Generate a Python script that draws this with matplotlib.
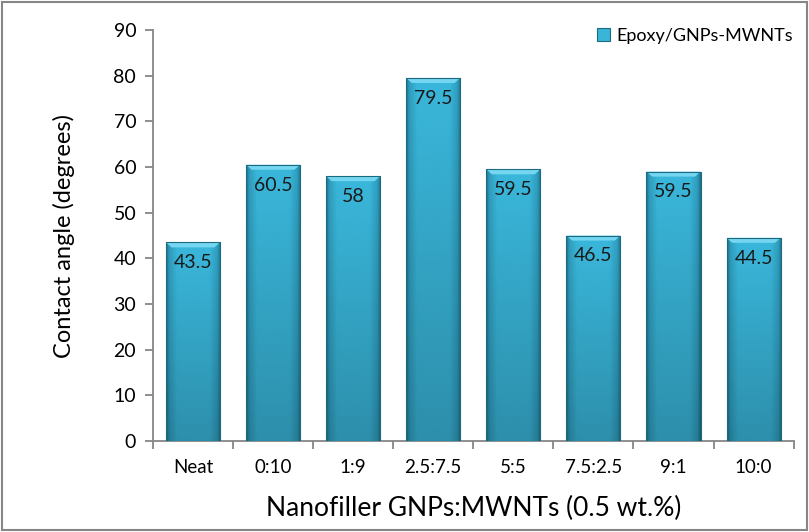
import numpy as np
import matplotlib
matplotlib.use('Agg')
import matplotlib.pyplot as plt
from matplotlib.patches import Rectangle, Polygon
from matplotlib.colors import LinearSegmentedColormap

# data
categories = ['Neat', '0:10', '1:9', '2.5:7.5', '5:5', '7.5:2.5', '9:1', '10:0']
heights = [43.5, 60.5, 58, 79.5, 59.5, 45, 59, 44.5]
labels = ['43.5', '60.5', '58', '79.5', '59.5', '46.5', '59.5', '44.5']
series_name = 'Epoxy/GNPs-MWNTs'

plt.rcParams['font.family'] = ['Lato', 'DejaVu Sans']

fig = plt.figure(figsize=(8.09, 5.32), dpi=100)
ax = fig.add_axes([0.189, 0.171, 0.792, 0.7726])

x = np.arange(len(categories))
bw = 0.675
# mostly flat colour with darker rims
cmap = LinearSegmentedColormap.from_list(
    'cyl', [(0, '#1d6f86'), (0.06, '#2f9dbd'), (0.2, '#3ab7db'),
            (0.8, '#3ab7db'), (0.94, '#2f9dbd'), (1, '#1d6f86')])

bars = ax.bar(x, heights, width=bw, color='#3ab5d8', edgecolor='none', zorder=2)
for b, h in zip(bars, heights):
    x0 = b.get_x()
    grad = np.linspace(0, 1, 256).reshape(1, -1)
    im = ax.imshow(grad, cmap=cmap, aspect='auto', extent=[x0, x0 + bw, 0, h],
                   zorder=3)
    im.set_clip_path(b)
    # darker towards the bottom
    vg_rgba = np.zeros((256, 1, 4))
    vg_rgba[:, 0, 3] = np.linspace(0.0, 0.22, 256)
    im2 = ax.imshow(vg_rgba, aspect='auto', extent=[x0, x0 + bw, 0, h],
                    zorder=4, origin='upper')
    im2.set_clip_path(b)
    # bevel at top
    bev = 1.1
    dx = 0.07
    top = Polygon([[x0, h], [x0 + bw, h], [x0 + bw - dx, h - bev], [x0 + dx, h - bev]],
                  closed=True, facecolor='#74d6f0', edgecolor='none', zorder=5)
    ax.add_patch(top)
    ax.add_patch(Rectangle((x0, 0), bw, h, fill=False, edgecolor='#1b6a80',
                           lw=0.8, zorder=6))

for xi, h, lab in zip(x, heights, labels):
    ax.text(xi, h - 2.6, lab, ha='center', va='top', fontsize=14,
            color='#1a1a1a', zorder=7)

ax.set_xlim(-0.5, len(categories) - 0.5)
ax.set_ylim(0, 90)
ax.set_yticks(np.arange(0, 91, 10))
ax.set_xticks(x)
ax.set_xticklabels(categories)
ax.set_xticks(np.arange(-0.5, len(categories), 1), minor=True)
ax.tick_params(axis='x', which='major', length=0, pad=13, labelsize=13.5)
ax.tick_params(axis='x', which='minor', length=6, color='#868686', width=1.3)
ax.tick_params(axis='y', length=6, color='#868686', width=1.3, labelsize=14, pad=6)
for s in ['top', 'right']:
    ax.spines[s].set_visible(False)
for s in ['left', 'bottom']:
    ax.spines[s].set_color('#868686')
    ax.spines[s].set_linewidth(1.3)

ax.set_xlabel('Nanofiller GNPs:MWNTs (0.5 wt.%)', fontsize=19, labelpad=14)
ax.set_ylabel('Contact angle (degrees)', fontsize=17, labelpad=28)

handle = Rectangle((0, 0), 1, 1, facecolor='#3ab5d8', edgecolor='#1b6a80', lw=0.8)
ax.legend([handle], [series_name], loc='upper right', frameon=False,
          fontsize=13, handlelength=0.7, handleheight=0.7, handletextpad=0.4,
          bbox_to_anchor=(1.025, 1.045))

# outer frame
fig.patches.append(Rectangle((0.002, 0.004), 0.996, 0.992, transform=fig.transFigure,
                             fill=False, edgecolor='#868686', lw=1.5))

fig.savefig('out.png', dpi=100)
